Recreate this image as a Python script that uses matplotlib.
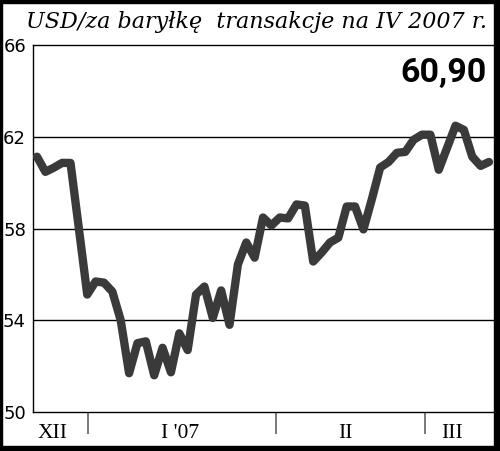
import numpy as np
import matplotlib
matplotlib.use("Agg")
import matplotlib.pyplot as plt
from matplotlib.patches import Rectangle

# ropa naftowa, USD za baryłkę (odczyt z wykresu)
prices = [61.13, 60.47, 60.65, 60.86, 60.86, 58.0, 55.12, 55.69, 55.64, 55.25,
          54.0, 51.69, 53.0, 53.08, 51.6, 52.8, 51.73, 53.43, 52.7, 55.12,
          55.47, 54.1, 55.3, 53.8, 56.43, 57.39, 56.73, 58.48, 58.13, 58.48,
          58.44, 59.05, 59.0, 56.56, 56.95, 57.39, 57.6, 58.96, 58.96, 57.96,
          59.27, 60.66, 60.9, 61.3, 61.34, 61.87, 62.09, 62.09, 60.56, 61.52,
          62.48, 62.3, 61.13, 60.73, 60.9]
month_names = ["XII", "I '07", "II", "III"]
month_centers = [1.8, 17.1, 36.8, 49.6]
month_breaks = [6.1, 28.6, 46.4]
y_ticks = [50, 54, 58, 62, 66]
last_value = "60,90"
title = "USD/za baryłkę  transakcje na IV 2007 r."

fig = plt.figure(figsize=(5.0, 4.51), dpi=100)
ax = fig.add_axes([33/500, 1-412/451, 461/500, 367/451])

x = np.arange(len(prices))
ax.plot(x, prices, color="#3a3a3a", lw=6.0, solid_joinstyle="round",
        solid_capstyle="round", zorder=3)

ax.set_xlim(-0.48, 54.6)
ax.set_ylim(50, 66)
ax.set_yticks(y_ticks)
ax.set_yticklabels([str(v) for v in y_ticks], fontsize=13, family="DejaVu Sans")
ax.tick_params(axis="y", length=0, pad=5)
for v in y_ticks[1:-1]:
    ax.axhline(v, color="black", lw=1.0, zorder=1)

ax.set_xticks(month_breaks)
ax.set_xticklabels([])
ax.tick_params(axis="x", which="major", length=16, width=1.1, color="#555555",
               direction="out", pad=0)
ax.set_xticks(month_centers, minor=True)
ax.set_xticklabels(month_names, minor=True, fontsize=15.5, family="Liberation Serif")
ax.tick_params(axis="x", which="minor", length=0, pad=9)

for s in ["left", "bottom", "top"]:
    ax.spines[s].set_linewidth(1.0)
    ax.spines[s].set_color("black")
ax.spines["right"].set_visible(False)

fig.text(256/500, 1-28/451, title, ha="center", va="baseline", fontsize=16,
         family="DejaVu Serif", style="italic")
fig.text(487/500, 1-82/451, last_value, ha="right", va="baseline", fontsize=24.5,
         family="Roboto", weight="bold")

# czarna ramka wokół całości
for r in [(0, 0, 2/500, 1), (494/500, 0, 6/500, 1), (0, 0, 1, 5/451), (0, 1-3/451, 1, 3/451)]:
    fig.patches.append(Rectangle(r[:2], r[2], r[3], transform=fig.transFigure,
                                 color="black", zorder=5))

fig.savefig("out.png", dpi=100)
